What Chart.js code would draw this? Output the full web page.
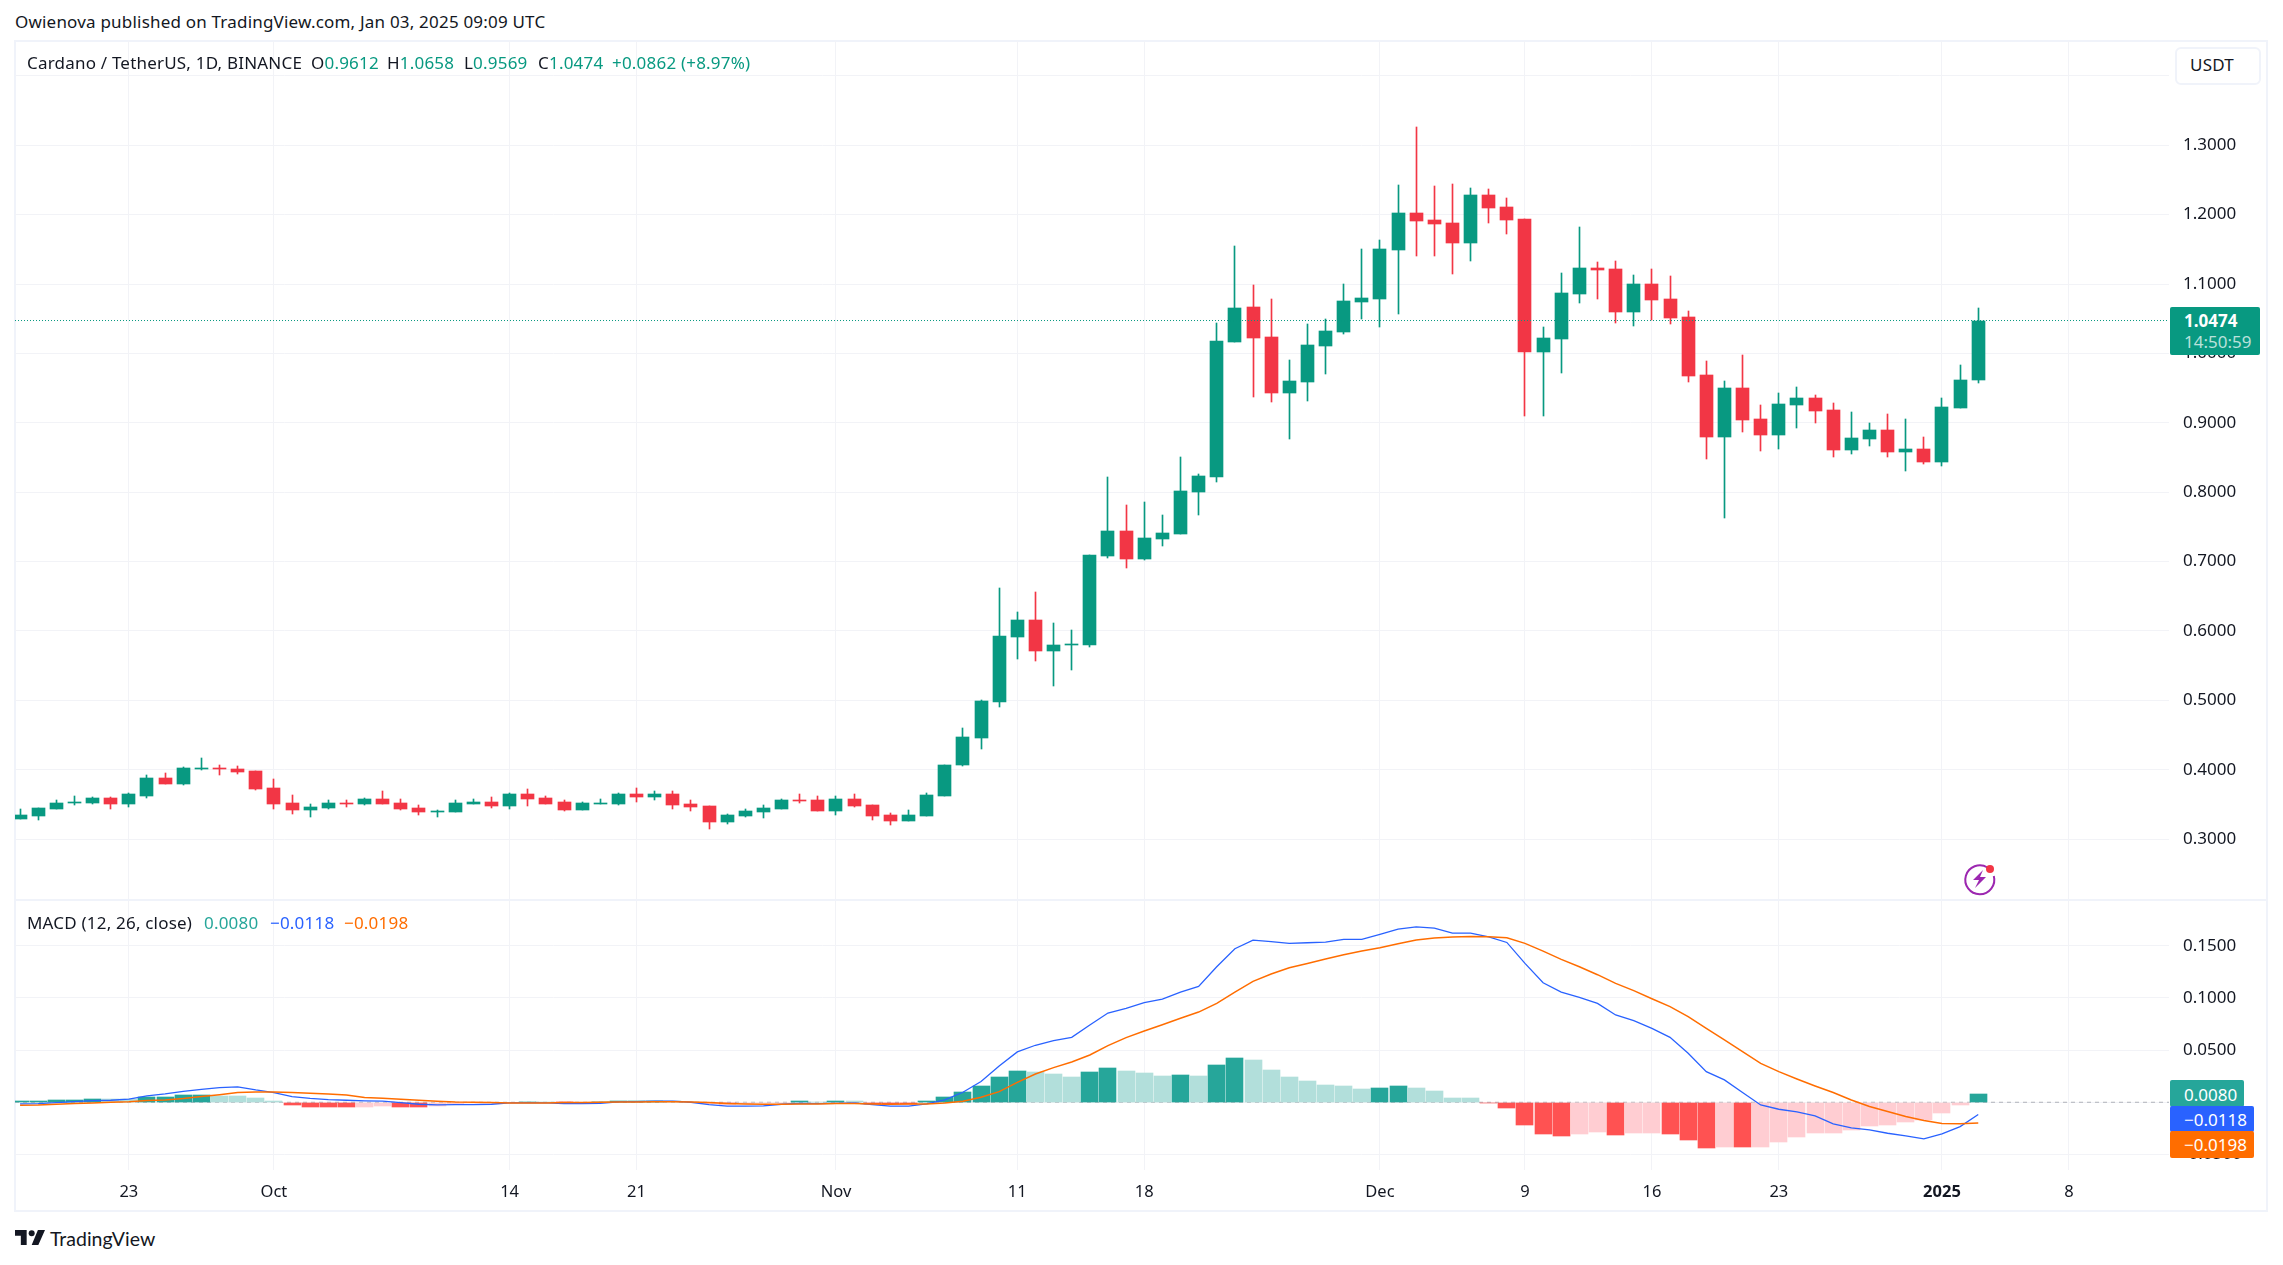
<!DOCTYPE html>
<html>
<head>
<meta charset="utf-8">
<title>Cardano / TetherUS</title>
<script src="https://cdn.jsdelivr.net/npm/chart.js@4/dist/chart.umd.js"></script>
<style>
  html, body { margin:0; padding:0; background:#fff; width:2283px; height:1265px; overflow:hidden; }
  body, .t { font-family:"Noto Sans", sans-serif; color:#131722; }
  .t { position:absolute; white-space:pre; line-height:20px; font-size:17px; letter-spacing:.2px; }
  canvas { position:absolute; }
  #frame { position:absolute; left:14px; top:40px; width:2250px; height:1168px; border:2px solid #f0f3fa; }
  #sep { position:absolute; left:15px; top:899px; width:2253px; height:2px; background:#f0f3fa; }
  .tag { position:absolute; color:#fff; font-size:17px; line-height:25px; border-radius:2px; padding-left:14px; box-sizing:border-box; }
  .g { color:#089981; }
</style>
</head>
<body>
<div id="frame"></div>
<canvas id="priceChart" style="left:15px;top:41px"></canvas>
<canvas id="macdChart" style="left:15px;top:901px"></canvas>
<div id="sep"></div>

<div class="t" style="left:15px;top:12px">Owienova published on TradingView.com, Jan 03, 2025 09:09 UTC</div>
<div class="t" style="left:27px;top:53px">Cardano / TetherUS, 1D, BINANCE</div>
<div class="t" style="left:311px;top:53px">O<span class="g">0.9612</span></div>
<div class="t" style="left:387px;top:53px">H<span class="g">1.0658</span></div>
<div class="t" style="left:464px;top:53px">L<span class="g">0.9569</span></div>
<div class="t" style="left:538px;top:53px">C<span class="g">1.0474</span></div>
<div class="t g" style="left:612px;top:53px">+0.0862 (+8.97%)</div>

<div class="t" style="left:27px;top:913px">MACD (12, 26, close)</div>
<div class="t" style="left:204px;top:913px;color:#26a69a">0.0080</div>
<div class="t" style="left:270px;top:913px;color:#2962ff">−0.0118</div>
<div class="t" style="left:344px;top:913px;color:#ff6d00">−0.0198</div>

<!-- right side boxes -->
<div class="t" style="left:2175px;top:47px;width:86px;height:38px;border:2px solid #f0f3fa;border-radius:6px;box-sizing:border-box;background:#fff;line-height:32px;padding-left:13px">USDT</div>
<div class="tag" style="left:2170px;top:307px;width:90px;height:48px;background:#089981;padding-top:0">
  <div style="font-weight:700;height:24px;line-height:27px">1.0474</div>
  <div style="height:24px;line-height:22px;color:rgba(255,255,255,.72)">14:50:59</div>
</div>
<div class="tag" style="left:2170px;top:1080px;width:74px;height:27px;background:#26a69a;line-height:29px">0.0080</div>
<div class="tag" style="left:2170px;top:1106px;width:84px;height:26px;background:#2962ff;line-height:27px">−0.0118</div>
<div class="tag" style="left:2170px;top:1131px;width:84px;height:27px;background:#ff6d00;line-height:28px">−0.0198</div>

<!-- lightning badge -->
<svg style="position:absolute;left:1960px;top:860px" width="40" height="38" viewBox="0 0 40 38">
  <path d="M27.5 7.5 A14.5 14.5 0 1 0 33.8 16" fill="none" stroke="#9c27b0" stroke-width="2"/>
  <path d="M23 10 L13 20 H19 L15 28 L26 17 H20 Z" fill="#9c27b0"/>
  <circle cx="30" cy="9" r="4" fill="#f23645"/>
</svg>

<!-- logo -->
<svg style="position:absolute;left:15px;top:1230px" width="30" height="15" viewBox="0 0 36 18">
  <path d="M14 18H7V7H0V0h14v18zM28 18h-8L27.5 0H36l-8 18z" fill="#131722"/>
  <circle cx="20" cy="4" r="3.6" fill="#131722"/>
</svg>
<div class="t" style="left:50px;top:1229px;font-size:19.5px;letter-spacing:0;font-family:Lato,'Noto Sans',sans-serif">TradingView</div>

<script>
// day offsets are counted from 23 Sep 2024 (first candle 17 Sep, last 3 Jan)
const firstDay = -6;
const xMin = -6.28, xMax = 112.52;

const opens = [.3291,.3334,.3434,.3519,.3519,.3591,.3505,.3619,.3876,.3791,.4005,.4019,.4005,.3976,.3733,.3519,.3419,.3448,.3519,.3505,.3576,.3519,.3448,.3391,.3391,.3505,.3534,
  .3476,.3648,.3591,.3534,.3419,.3505,.3505,.3648,.3605,.3648,.3505,.3476,.3248,.3334,.3391,.3434,.3562,.3562,.3405,.3576,.3491,.3348,.3262,.3334,.3619,
  .4066,.4454,.4973,.5909,.6154,.5707,.5794,.5794,.7075,.7435,.7032,.7320,.7392,.7997,.8213,
  1.0168,1.0672,1.0240,.9434,.9592,1.0110,1.0312,1.0744,1.0787,1.1493,1.2026,1.1925,1.1882,1.1594,1.2285,1.2112,1.1939,1.0024,1.0211,1.0859,
  1.1227,1.1213,1.0594,1.0997,1.0781,1.0522,.9686,.8794,.9499,.9053,.8822,.9254,.9355,.9182,.8606,.8765,.8894,.8578,.8621,.8434,.9211,.9612];
const highs = [.3434,.3448,.3562,.3619,.3605,.3605,.3662,.3919,.3948,.4033,.4162,.4062,.4048,.3976,.3862,.3633,.3505,.3562,.3562,.3591,.3691,.3576,.3491,.3419,.3562,.3576,.3605,
  .3662,.3719,.3619,.3562,.3534,.3576,.3662,.3733,.3691,.3691,.3562,.3476,.3362,.3434,.3491,.3576,.3648,.3619,.3619,.3648,.3491,.3376,.3419,.3662,.4062,
  .4598,.5002,.6614,.6269,.6557,.6110,.6010,.7090,.8213,.7810,.7853,.7666,.8501,.8256,1.0442,
  1.1550,1.0989,1.0787,.9909,1.0427,1.0499,1.1003,1.1507,1.1637,1.2429,1.3264,1.2414,1.2443,1.2386,1.2371,1.2242,1.1939,1.0384,1.1162,1.1824,
  1.1314,1.1328,1.1126,1.1213,1.1112,1.0608,.9888,.9600,.9974,.9254,.9427,.9514,.9398,.9283,.9154,.8995,.9125,.9053,.8794,.9355,.9830,1.0658];
const lows = [.3291,.3276,.3434,.3491,.3505,.3434,.3462,.3591,.3791,.3776,.3990,.3919,.3933,.3705,.3434,.3362,.3319,.3434,.3462,.3491,.3505,.3419,.3348,.3319,.3391,.3505,.3448,
  .3434,.3476,.3505,.3405,.3419,.3505,.3491,.3533,.3562,.3434,.3405,.3148,.3219,.3319,.3305,.3434,.3519,.3405,.3348,.3462,.3276,.3205,.3262,.3334,.3619,
  .4051,.4296,.4901,.5592,.5563,.5203,.5434,.5765,.7046,.6902,.7018,.7219,.7392,.7666,.8141,
  1.0168,.9376,.9304,.8760,.9318,.9707,1.0283,1.0499,1.0384,1.0571,1.1406,1.1406,1.1147,1.1334,1.1882,1.1723,.9102,.9102,.9722,1.0730,
  1.0781,1.0435,1.0392,1.0478,1.0421,.9586,.8477,.7627,.8866,.8592,.8621,.8923,.8995,.8506,.8549,.8664,.8506,.8304,.8405,.8376,.9211,.9569];
const closes = [.3348,.3448,.3519,.3534,.3591,.3505,.3648,.3876,.3791,.4019,.4019,.4005,.3962,.3719,.3505,.3419,.3462,.3519,.3505,.3576,.3505,.3434,.3391,.3405,.3519,.3534,.3476,
  .3648,.3576,.3505,.3419,.3519,.3519,.3648,.3605,.3648,.3491,.3462,.3248,.3348,.3405,.3448,.3562,.3548,.3405,.3576,.3476,.3334,.3262,.3348,.3633,.4062,
  .4469,.4987,.5923,.6154,.5707,.5794,.5808,.7090,.7435,.7032,.7334,.7406,.8011,.8227,1.0182,
  1.0658,1.0226,.9434,.9606,1.0125,1.0326,1.0758,1.0802,1.1507,1.2026,1.1910,1.1867,1.1594,1.2285,1.2098,1.1925,1.0024,1.0226,1.0874,1.1234,
  1.1198,1.0594,1.0997,1.0766,1.0507,.9672,.8794,.9499,.9038,.8822,.9269,.9355,.9168,.8606,.8779,.8894,.8578,.8621,.8434,.9226,.9614,1.0474];

const histValues = [.0013,.0014,.0022,.0023,.0032,.0029,.0028,.0054,.0055,.0067,.0068,.0064,.0063,.0041,.0010,
  -.0026,-.0041,-.0042,-.0043,-.0041,-.0035,-.0041,-.0043,-.0040,-.0016,-.0010,-.0006,-.0003,.0002,.0001,-.0002,-.0003,.0002,.0013,.0014,.0016,.0008,.0002,
  -.0006,-.0016,-.0014,-.0010,-.0004,.0013,.0004,.0013,.0011,-.0012,-.0016,-.0017,
  .0013,.0051,.0099,.0156,.0242,.0300,.0290,.0271,.0242,.0290,.0329,.0300,.0281,.0252,.0262,.0252,.0357,.0424,.0405,.0309,.0242,.0204,.0166,.0156,.0128,.0137,.0156,.0137,.0108,.0041,.0040,
  -.0005,-.0054,-.0217,-.0303,-.0322,-.0303,-.0284,-.0313,-.0293,-.0290,-.0303,-.0360,-.0437,-.0427,-.0430,-.0427,-.0380,-.0332,-.0293,-.0290,-.0265,-.0226,-.0217,-.0188,-.0169,-.0102,-.0026,.0080];
const macdLine = [-.0016,-.0013,-.0003,.0006,.0016,.0019,.0029,.0061,.0080,.0105,.0124,.0140,.0147,.0118,.0093,.0054,.0038,.0026,.0019,.0013,.0010,-.0003,-.0019,-.0026,-.0022,-.0022,-.0019,-.0006,-.0003,-.0006,-.0013,-.0013,-.0010,.0003,.0006,.0010,.0010,0,-.0022,-.0038,-.0038,-.0035,-.0019,-.0010,-.0013,-.0010,-.0006,-.0022,-.0038,
  -.0038,-.0016,.0022,.0096,.0198,.0348,.0482,.0546,.0590,.0622,.0740,.0855,.0900,.0954,.0989,.1056,.1110,.1298,.1471,.1554,.1538,.1522,.1528,.1534,.1560,.1560,.1608,.1659,.1681,.1668,.1621,.1621,.1585,
  .1531,.1330,.1145,.1056,.1005,.0947,.0836,.0782,.0708,.0622,.0469,.0293,.0214,.0093,-.0026,-.0067,-.0093,-.0131,-.0207,-.0246,-.0265,-.0297,-.0322,-.0351,-.0303,-.0233,-.0118];
const signalLine = [-.0029,-.0026,-.0019,-.0013,-.0006,0,.0006,.0016,.0022,.0035,.0054,.0073,.0093,.0099,.0099,.0093,.0086,.0080,.0070,.0045,.0038,.0029,.0019,.0010,.0003,0,-.0003,-.0006,-.0006,-.0006,-.0003,-.0003,0,.0003,.0003,.0006,.0006,.0003,-.0003,-.0013,-.0016,-.0019,-.0019,-.0016,-.0016,-.0013,-.0013,-.0016,-.0019,
  -.0016,-.0016,-.0006,.0010,.0048,.0102,.0191,.0271,.0332,.0386,.0453,.0542,.0619,.0683,.0743,.0804,.0864,.0947,.1056,.1158,.1228,.1289,.1330,.1372,.1413,.1448,.1480,.1518,.1554,.1573,.1582,.1589,.1585,
  .1576,.1522,.1448,.1369,.1298,.1222,.1139,.1069,.0992,.0916,.0820,.0708,.0597,.0485,.0373,.0293,.0223,.0156,.0093,.0022,-.0041,-.0089,-.0137,-.0175,-.0204,-.0207,-.0198];

const priceTicks = [.3,.4,.5,.6,.7,.8,.9,1,1.1,1.2,1.3,1.4];
const macdTicks = [-.05,0,.05,.1,.15];
const timeTickDays = [0,8,21,28,39,49,56,69,77,84,91,100,107];
const timeTickLabels = ['23','Oct','14','21','Nov','11','18','Dec','9','16','23','2025','8'];
const lastClose = 1.0474;

const GREEN = '#089981', RED = '#f23645', GRID = '#f2f3f7';
const FONT = '"Noto Sans", sans-serif';
const dayOf = i => i + firstDay;
const candleColor = closes.map((c, i) => c >= opens[i] ? GREEN : RED);
const histColor = histValues.map((v, i) => {
  const prev = i ? histValues[i-1] : 0;
  if (v >= 0) return v >= prev ? '#26a69a' : '#b2dfdb';
  return v < prev ? '#ff5252' : '#ffcdd2';
});

// keep thin bars on whole pixels, otherwise wicks come out blurry
const snapBars = {
  id: 'snapBars',
  beforeDatasetDraw(chart, args) {
    if (args.meta.type !== 'bar') return;
    args.meta.data.forEach(el => {
      const w = Math.round(el.width);
      el.x = Math.round(el.x - w / 2) + w / 2;
      el.y = Math.round(el.y);
      el.base = Math.round(el.base);
    });
  }
};

Chart.defaults.animation = false;
Chart.defaults.responsive = false;
Chart.defaults.font.family = FONT;

const xAxis = (showLabels, height) => ({
  type: 'linear', min: xMin, max: xMax, offset: false,
  afterBuildTicks: s => { s.ticks = timeTickDays.map(v => ({ value: v })); },
  afterFit: s => { s.height = height; s.paddingLeft = 0; s.paddingRight = 0; },
  grid: { color: GRID, drawTicks: false, offset: false },
  border: { display: false },
  ticks: {
    display: showLabels, autoSkip: false, maxRotation: 0, padding: 12, color: '#131722',
    font: c => ({ size: 16.5, family: FONT, weight: c.tick && c.tick.value === 100 ? 700 : 400 }),
    callback: v => timeTickLabels[timeTickDays.indexOf(v)]
  }
});
const yAxis = (min, max, ticks) => ({
  position: 'right', min, max,
  afterBuildTicks: s => { s.ticks = ticks.map(v => ({ value: v })); },
  afterFit: s => { s.width = 99; s.paddingTop = 0; s.paddingBottom = 0; },
  grid: { color: GRID, drawTicks: false },
  border: { display: false },
  ticks: { padding: 14, color: '#131722', font: { size: 17 }, callback: v => v.toFixed(4) }
});
const noChrome = { legend: { display: false }, tooltip: { enabled: false } };

const priceCv = document.getElementById('priceChart');
priceCv.width = 2253; priceCv.height = 858;
new Chart(priceCv, {
  type: 'bar',
  plugins: [snapBars],
  data: {
    datasets: [
      { type: 'line', order: 0, data: [{ x: xMin, y: lastClose }, { x: xMax, y: lastClose }],
        borderColor: GREEN, borderWidth: 1, borderDash: [1, 2], pointRadius: 0 },
      { order: 1, grouped: false, barThickness: 13, backgroundColor: candleColor,
        data: opens.map((o, i) => ({ x: dayOf(i), y: [o, closes[i]] })) },
      { order: 2, grouped: false, barThickness: 1, backgroundColor: candleColor,
        data: lows.map((l, i) => ({ x: dayOf(i), y: [l, highs[i]] })) }
    ]
  },
  options: {
    layout: { padding: 0 },
    plugins: noChrome,
    scales: { x: xAxis(false, 0), y: yAxis(.2136, 1.4503, priceTicks) }
  }
});

const macdCv = document.getElementById('macdChart');
macdCv.width = 2253; macdCv.height = 309;
new Chart(macdCv, {
  type: 'bar',
  plugins: [snapBars],
  data: {
    datasets: [
      { type: 'line', order: 0, data: signalLine.map((v, i) => ({ x: dayOf(i), y: v })),
        borderColor: '#ff6d00', borderWidth: 1.5, pointRadius: 0, tension: 0 },
      { type: 'line', order: 1, data: macdLine.map((v, i) => ({ x: dayOf(i), y: v })),
        borderColor: '#2962ff', borderWidth: 1.3, pointRadius: 0, tension: 0 },
      { order: 2, grouped: false, barThickness: 17, backgroundColor: histColor,
        data: histValues.map((v, i) => ({ x: dayOf(i), y: [0, v] })) },
      { type: 'line', order: 3, data: [{ x: xMin, y: 0 }, { x: xMax, y: 0 }],
        borderColor: 'rgba(120,123,134,.55)', borderWidth: 1, borderDash: [4, 4], pointRadius: 0 }
    ]
  },
  options: {
    layout: { padding: 0 },
    plugins: noChrome,
    scales: { x: xAxis(true, 40), y: yAxis(-.0649, .1928, macdTicks) }
  }
});
</script>
</body>
</html>
